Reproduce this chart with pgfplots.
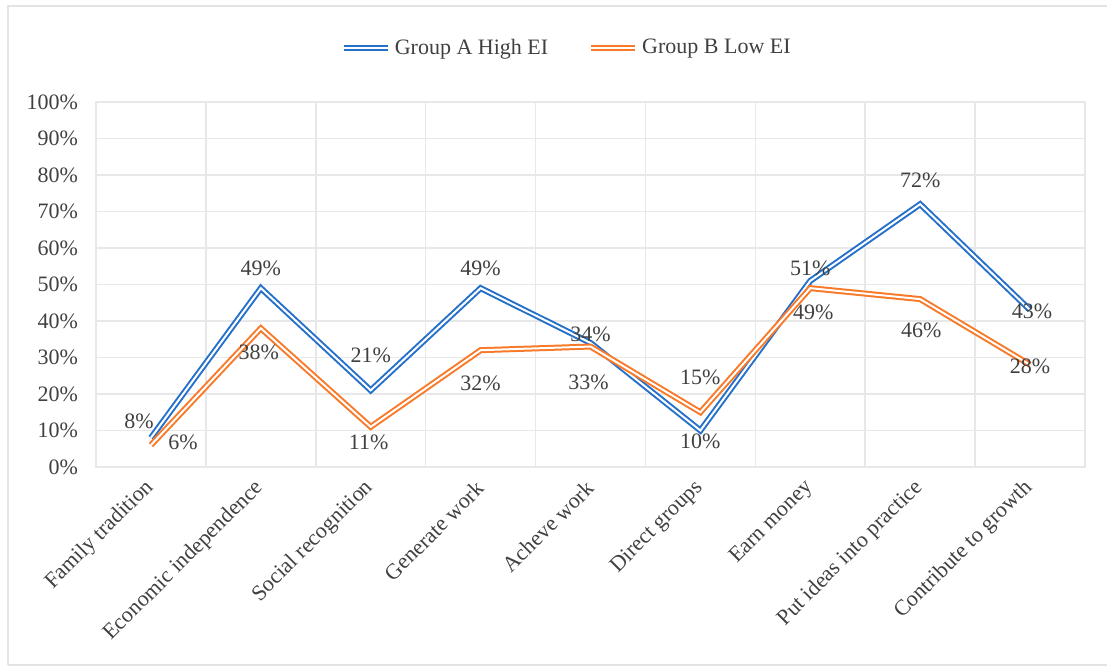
\documentclass[border=0pt]{standalone}
\usepackage{pgfplots}
\pgfplotsset{compat=1.18}
\usepackage{pgfplotstable}
\usepackage{fontspec}
\setmainfont{Liberation Serif}
\definecolor{blueA}{RGB}{36,112,202}
\definecolor{orangeB}{RGB}{248,122,40}
\definecolor{txt}{RGB}{64,64,64}
\definecolor{gridc}{RGB}{232,232,232}

\pgfplotstableread{
x y dx dy
0 8 -6 8
1 49 0 10
2 21 0 17.5
3 49 0 10
4 34 0 4.5
5 10 0 -5.5
6 51 0 6.5
7 72 0 12
8 43 1 -0.5
}\tabA

\pgfplotstableread{
x y dx dy
0 6 16 1.5
1 38 -1 -12
2 11 -1 -7.5
3 32 0 -16.5
4 33 -1 -18
5 15 0 17.5
6 49 1.5 -12
7 46 0.5 -15.5
8 28 0 -1
}\tabB

\begin{document}
\begin{tikzpicture}
\useasboundingbox (-48pt,-100.5pt) rectangle (505.5pt,233.5pt);
\draw[gray!22, line width=1pt] (-44pt,-99pt) -- (-44pt,230.5pt) -- (515pt,230.5pt);
\draw[gray!22, line width=1pt] (-44pt,-99pt) -- (515pt,-99pt);
\begin{axis}[
  at={(0,0)}, anchor=south west,
  scale only axis, width=494.5pt, height=182.5pt,
  xmin=-0.5, xmax=8.5, ymin=0, ymax=100,
  clip=false,
  xtick={0,...,8},
  xticklabels={Family tradition, Economic independence, Social recognition, Generate work, Acheve work, Direct groups, Earn money, Put ideas into practice, Contribute to growth},
  minor xtick={-0.5,0.5,...,8.5},
  xminorgrids=true, xmajorgrids=false,
  ytick={0,10,...,100},
  yticklabel={\pgfmathprintnumber{\tick}\%},
  ymajorgrids=true,
  grid style={draw=gridc, line width=0.8pt},
  minor grid style={draw=gridc, line width=0.8pt},
  major tick length=0pt, minor tick length=0pt,
  axis line style={draw=gridc, line width=0.8pt},
  /pgf/number format/assume math mode=true,
  tick label style={font=\fontsize{11}{13}\selectfont, text=txt},
  yticklabel style={xshift=-5.5pt},
  xticklabel style={rotate=45, anchor=east, xshift=-3pt, yshift=-6pt},
  legend style={at={(0.477,1.148)}, anchor=center, draw=none, fill=none,
    font=\fontsize{11}{13}\selectfont, text=txt,
    /tikz/every even column/.append style={column sep=18pt}},
  legend columns=2,
  legend image code/.code={\draw[#1] (0pt,0pt) -- (22pt,0pt);},
]
\addplot[draw=blueA, double=white, double distance=1pt, line width=1pt,
  nodes near coords={\pgfmathprintnumber{\pgfplotspointmeta}\%},
  point meta=explicit,
  visualization depends on={\thisrow{dx}\as\dx},
  visualization depends on={\thisrow{dy}\as\dy},
  every node near coord/.append style={anchor=center, xshift=\dx pt, yshift=\dy pt, text=txt, font=\fontsize{11}{13}\selectfont, /pgf/number format/assume math mode=true}]
  table[x=x, y=y, meta=y]{\tabA};
\addlegendentry{Group A High EI}
\addplot[draw=orangeB, double=white, double distance=1pt, line width=1pt,
  nodes near coords={\pgfmathprintnumber{\pgfplotspointmeta}\%},
  point meta=explicit,
  visualization depends on={\thisrow{dx}\as\dx},
  visualization depends on={\thisrow{dy}\as\dy},
  every node near coord/.append style={anchor=center, xshift=\dx pt, yshift=\dy pt, text=txt, font=\fontsize{11}{13}\selectfont, /pgf/number format/assume math mode=true}]
  table[x=x, y=y, meta=y]{\tabB};
\addlegendentry{Group B Low EI}
\end{axis}
\end{tikzpicture}
\end{document}
